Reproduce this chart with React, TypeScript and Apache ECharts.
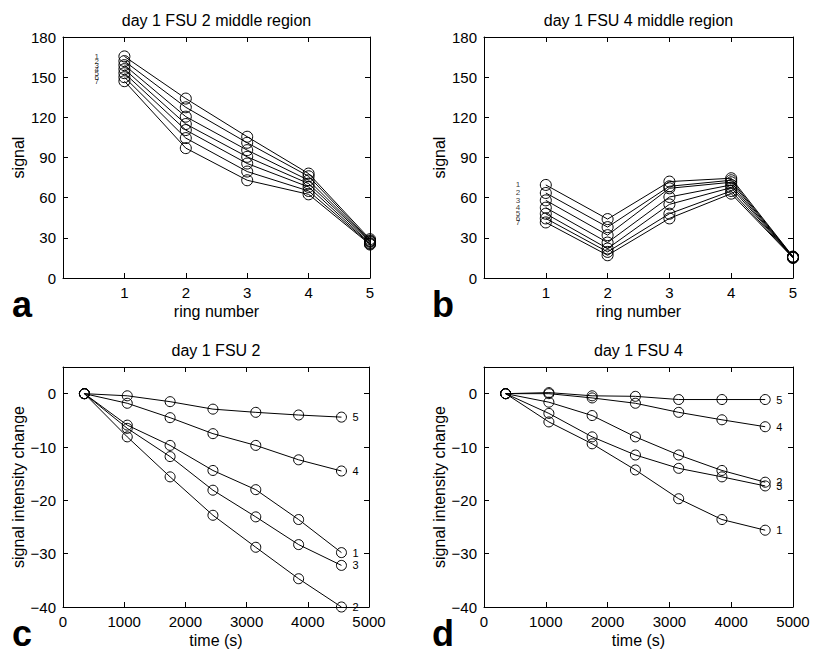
import React, { useEffect, useRef } from "react";
import * as echarts from "echarts";

// ---- data ----
const ringNumbers = [1, 2, 3, 4, 5];
const curveNames = ["1", "2", "3", "4", "5", "6", "7"];

// panel a: day 1 FSU 2 middle region, one row per curve (rings 1..5)
const fsu2Middle = [
  [165.5, 134, 105.5, 78, 29],
  [162, 127.5, 101, 76, 28],
  [159, 120.5, 95.5, 73, 27.5],
  [156, 115, 90.5, 70.5, 27],
  [153, 110.5, 85.5, 68, 26],
  [150, 104.5, 79.5, 65, 25.5],
  [147, 97, 73, 62.5, 25],
];

// panel b: day 1 FSU 4 middle region
const fsu4Middle = [
  [69.5, 44, 72, 74.5, 16],
  [63.5, 38, 68.5, 73, 15.8],
  [58, 32, 67, 71.5, 15.6],
  [52.5, 26.5, 60.5, 69.5, 15.5],
  [48, 22, 55, 67.5, 15.4],
  [44.5, 19.5, 48, 65, 15.2],
  [41.5, 17, 44.5, 63, 15],
];

// panels c and d: time (s)
const times = [350, 1050, 1750, 2450, 3150, 3850, 4550];
const ringCurveNames = ["1", "2", "3", "4", "5"];

// panel c: day 1 FSU 2, signal intensity change per ring
const fsu2Change = [
  [0, -5.9, -9.7, -14.4, -18.0, -23.6, -29.8],
  [0, -8.1, -15.6, -22.8, -28.8, -34.7, -40.0],
  [0, -6.5, -11.8, -18.1, -23.1, -28.3, -32.2],
  [0, -1.8, -4.5, -7.5, -9.7, -12.4, -14.5],
  [0, -0.4, -1.5, -2.9, -3.5, -4.0, -4.4],
];

// panel d: day 1 FSU 4
const fsu4Change = [
  [0, -5.3, -9.4, -14.3, -19.7, -23.6, -25.6],
  [0, -1.6, -4.1, -8.1, -11.5, -14.4, -16.6],
  [0, -3.7, -8.1, -11.5, -14.0, -15.6, -17.3],
  [0, 0.0, -0.8, -1.8, -3.5, -4.9, -6.2],
  [0, 0.2, -0.4, -0.5, -1.1, -1.1, -1.1],
];

const FONT = "'Liberation Sans', Arial, Helvetica, sans-serif";
const BLACK = "#000";

type Panel = {
  grid: { left: number; top: number; width: number; height: number };
  title: string;
  letter: string;
  kind: "ring" | "time";
};

const panels: Panel[] = [
  { grid: { left: 63, top: 37, width: 307, height: 241 }, title: "day 1 FSU 2 middle region", letter: "a", kind: "ring" },
  { grid: { left: 484, top: 37, width: 309, height: 241 }, title: "day 1 FSU 4 middle region", letter: "b", kind: "ring" },
  { grid: { left: 63, top: 367, width: 306, height: 240 }, title: "day 1 FSU 2", letter: "c", kind: "time" },
  { grid: { left: 484, top: 367, width: 309, height: 240 }, title: "day 1 FSU 4", letter: "d", kind: "time" },
];

const fmt = (v: number) => String(v).replace("-", "\u2212");

function buildOption() {
  const grids: any[] = [];
  const xAxes: any[] = [];
  const yAxes: any[] = [];
  const series: any[] = [];
  const graphics: any[] = [];

  const tickCommon = { show: true, inside: true, length: 5, lineStyle: { color: BLACK, width: 1 } };
  const lineCommon = { show: true, onZero: false, lineStyle: { color: BLACK, width: 1 } };
  const labelCommon = { color: BLACK, fontSize: 15, fontFamily: FONT };
  const nameStyle = { color: BLACK, fontSize: 16, fontFamily: FONT };

  panels.forEach((p, i) => {
    grids.push({ ...p.grid, containLabel: false, show: false });
    const ring = p.kind === "ring";
    const xRange = ring ? { min: 0, max: 5, interval: 1 } : { min: 0, max: 5000, interval: 1000 };
    const yRange = ring ? { min: 0, max: 180, interval: 30 } : { min: -40, max: 5, interval: 10 };

    xAxes.push({
      type: "value",
      gridIndex: i,
      position: "bottom",
      ...xRange,
      axisLine: lineCommon,
      axisTick: tickCommon,
      splitLine: { show: false },
      axisLabel: { ...labelCommon, margin: 7, showMinLabel: !ring, formatter: (v: number) => fmt(v) },
      name: ring ? "ring number" : "time (s)",
      nameLocation: "middle",
      nameGap: 25,
      nameTextStyle: nameStyle,
    });
    xAxes.push({
      type: "value",
      gridIndex: i,
      position: "top",
      ...xRange,
      axisLine: lineCommon,
      axisTick: tickCommon,
      splitLine: { show: false },
      axisLabel: { show: false },
    });
    yAxes.push({
      type: "value",
      gridIndex: i,
      position: "left",
      ...yRange,
      axisLine: lineCommon,
      axisTick: tickCommon,
      splitLine: { show: false },
      axisLabel: { ...labelCommon, margin: 7, showMaxLabel: ring, formatter: (v: number) => fmt(v) },
      name: ring ? "signal" : "signal intensity change",
      nameLocation: "middle",
      nameGap: ring ? 37 : 33,
      nameTextStyle: nameStyle,
    });
    yAxes.push({
      type: "value",
      gridIndex: i,
      position: "right",
      ...yRange,
      axisLine: lineCommon,
      axisTick: tickCommon,
      splitLine: { show: false },
      axisLabel: { show: false },
    });

    const xi = 2 * i;
    const yi = 2 * i;

    if (ring) {
      const rows = i === 0 ? fsu2Middle : fsu4Middle;
      rows.forEach((row, k) => {
        series.push({
          type: "line",
          name: curveNames[k],
          xAxisIndex: xi,
          yAxisIndex: yi,
          data: ringNumbers.map((r, j) => [r, row[j]]),
          symbol: "circle",
          symbolSize: 11,
          showAllSymbol: true,
          itemStyle: { color: "rgba(0,0,0,0)", borderColor: BLACK, borderWidth: 1 },
          lineStyle: { color: BLACK, width: 1 },
          emphasis: { disabled: true },
          silent: true,
        });
      });
      series.push({
        type: "scatter",
        xAxisIndex: xi,
        yAxisIndex: yi,
        symbolSize: 1,
        itemStyle: { color: "rgba(0,0,0,0)" },
        data: rows.map((row, k) => ({ value: [0.55, row[0]], name: curveNames[k] })),
        label: {
          show: true,
          position: "inside",
          formatter: "{b}",
          color: BLACK,
          fontSize: 8,
          fontFamily: FONT,
          textBorderWidth: 0,
          textBorderColor: "transparent",
        },
        emphasis: { disabled: true },
        silent: true,
      });
    } else {
      const rows = i === 2 ? fsu2Change : fsu4Change;
      rows.forEach((row, k) => {
        series.push({
          type: "line",
          name: ringCurveNames[k],
          xAxisIndex: xi,
          yAxisIndex: yi,
          data: times.map((t, j) => [t, row[j]]),
          symbol: "circle",
          symbolSize: 10,
          showAllSymbol: true,
          itemStyle: { color: "rgba(0,0,0,0)", borderColor: BLACK, borderWidth: 1 },
          lineStyle: { color: BLACK, width: 1 },
          endLabel: {
            show: true,
            formatter: "{a}",
            color: BLACK,
            fontSize: 11,
            fontFamily: FONT,
            distance: 11,
          },
          emphasis: { disabled: true },
          silent: true,
        });
      });
    }

    const cx = p.grid.left + p.grid.width / 2;
    graphics.push({
      type: "text",
      x: cx,
      y: p.grid.top - 17,
      style: {
        text: p.title,
        font: `16px ${FONT}`,
        fill: BLACK,
        align: "center",
        verticalAlign: "middle",
        textAlign: "center",
        textVerticalAlign: "middle",
      },
    });
    graphics.push({
      type: "text",
      x: i % 2 === 0 ? 12 : 432,
      y: p.grid.top + p.grid.height + 26,
      style: {
        text: p.letter,
        font: `bold 36px ${FONT}`,
        fill: BLACK,
        align: "left",
        verticalAlign: "middle",
        textAlign: "left",
        textVerticalAlign: "middle",
      },
    });
  });

  return {
    animation: false,
    backgroundColor: "#fff",
    grid: grids,
    xAxis: xAxes,
    yAxis: yAxes,
    series,
    graphic: graphics,
  };
}

export default function App() {
  const ref = useRef<HTMLDivElement>(null);
  useEffect(() => {
    if (!ref.current) return;
    const chart = echarts.init(ref.current, null, { renderer: "svg" });
    chart.setOption(buildOption() as any);
    return () => chart.dispose();
  }, []);
  return (
    <div
      ref={ref}
      style={{ position: "fixed", left: 0, top: 0, width: 814, height: 652, background: "#fff" }}
    />
  );
}
